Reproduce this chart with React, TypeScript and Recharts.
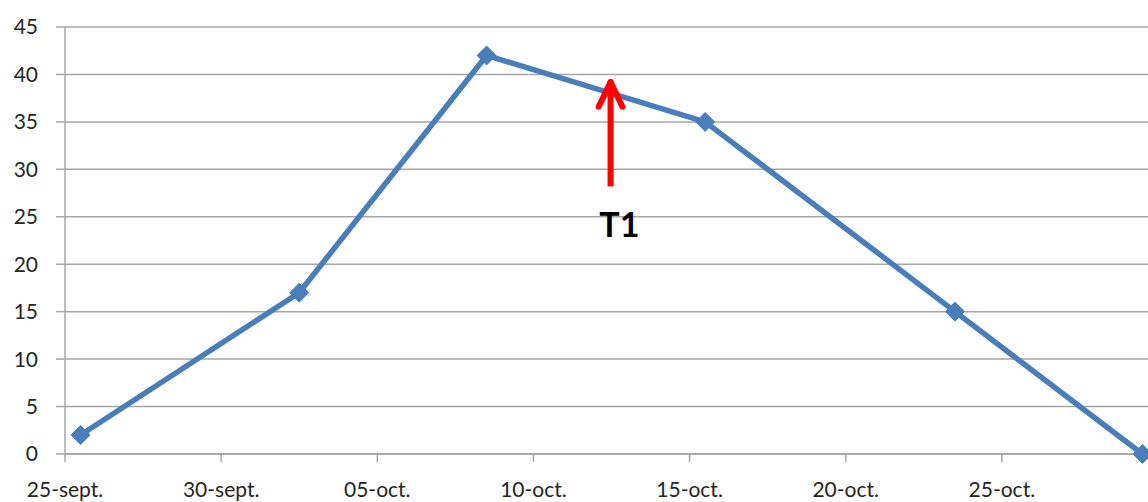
import { LineChart, Line, XAxis, YAxis, CartesianGrid, ReferenceLine, ReferenceDot } from 'recharts'

// days after 25-sept for each measurement
const dayOffsets = [0, 7, 13, 20, 28, 34]
const values = [2, 17, 42, 35, 15, 0]

const tickDays = [0, 5, 10, 15, 20, 25, 30]
const tickLabels = ['25-sept.', '30-sept.', '05-oct.', '10-oct.', '15-oct.', '20-oct.', '25-oct.']
const yTicks = [0, 5, 10, 15, 20, 25, 30, 35, 40, 45]

// T1 annotation (in chart units: day, value)
const arrowDay = 17.47
const arrowFrom = 28.2
const arrowTo = 39.2
const arrowHeadBase = 36.6
const arrowHeadHalf = 0.38
const labelPos = { day: 17.75, value: 24.1 }

// points sit in the middle of their day, like a date axis in a spreadsheet
const chartData = dayOffsets.map((d, i) => ({ x: d + 0.5, value: values[i] }))

const gridColor = '#a6a6a6'
const textColor = '#262626'
const blue = '#4a7ebb'

function Diamond(props: any) {
  const { cx, cy } = props
  if (cx == null || cy == null) return null
  const r = 9.5
  return (
    <polygon
      points={`${cx},${cy - r} ${cx + r},${cy} ${cx},${cy + r} ${cx - r},${cy}`}
      fill={blue}
      stroke={blue}
      strokeWidth={1}
      strokeLinejoin="round"
    />
  )
}

export default function App() {
  return (
    <div style={{ position: 'absolute', left: 0, top: 0, width: 1148, height: 502, background: '#fff', fontFamily: 'Lato, sans-serif' }}>
      <LineChart width={1148} height={502} data={chartData} margin={{ top: 27, right: 0, bottom: 0, left: 0 }}>
        <CartesianGrid vertical={false} stroke={gridColor} strokeWidth={1.5} />
        <XAxis
          dataKey="x"
          type="number"
          domain={[0, 34.68]}
          allowDataOverflow
          ticks={tickDays}
          tickFormatter={(v: number) => tickLabels[tickDays.indexOf(v)] ?? ''}
          height={48}
          tickSize={8}
          tickMargin={20}
          stroke={gridColor}
          strokeWidth={1.5}
          tick={{ fill: textColor, fontSize: 21 }}
          interval={0}
        />
        <YAxis
          domain={[0, 45]}
          ticks={yTicks}
          width={65}
          tickSize={9}
          tickMargin={18}
          stroke={gridColor}
          strokeWidth={1.5}
          tick={{ fill: textColor, fontSize: 21 }}
          interval={0}
        />
        <Line
          type="linear"
          dataKey="value"
          stroke={blue}
          strokeWidth={5.5}
          dot={<Diamond />}
          activeDot={false}
          isAnimationActive={false}
        />
        <ReferenceLine segment={[{ x: arrowDay, y: arrowFrom }, { x: arrowDay, y: arrowTo }]} stroke="#ff0000" strokeWidth={6} />
        <ReferenceLine segment={[{ x: arrowDay - arrowHeadHalf, y: arrowHeadBase }, { x: arrowDay, y: arrowTo }]} stroke="#ff0000" strokeWidth={6} strokeLinecap="round" />
        <ReferenceLine segment={[{ x: arrowDay + arrowHeadHalf, y: arrowHeadBase }, { x: arrowDay, y: arrowTo }]} stroke="#ff0000" strokeWidth={6} strokeLinecap="round" />
        <ReferenceDot
          x={labelPos.day}
          y={labelPos.value}
          r={0}
          fill="none"
          stroke="none"
          label={{ value: 'T1', position: 'center', fill: '#000', fontSize: 34, fontWeight: 700 }}
        />
      </LineChart>
    </div>
  )
}
